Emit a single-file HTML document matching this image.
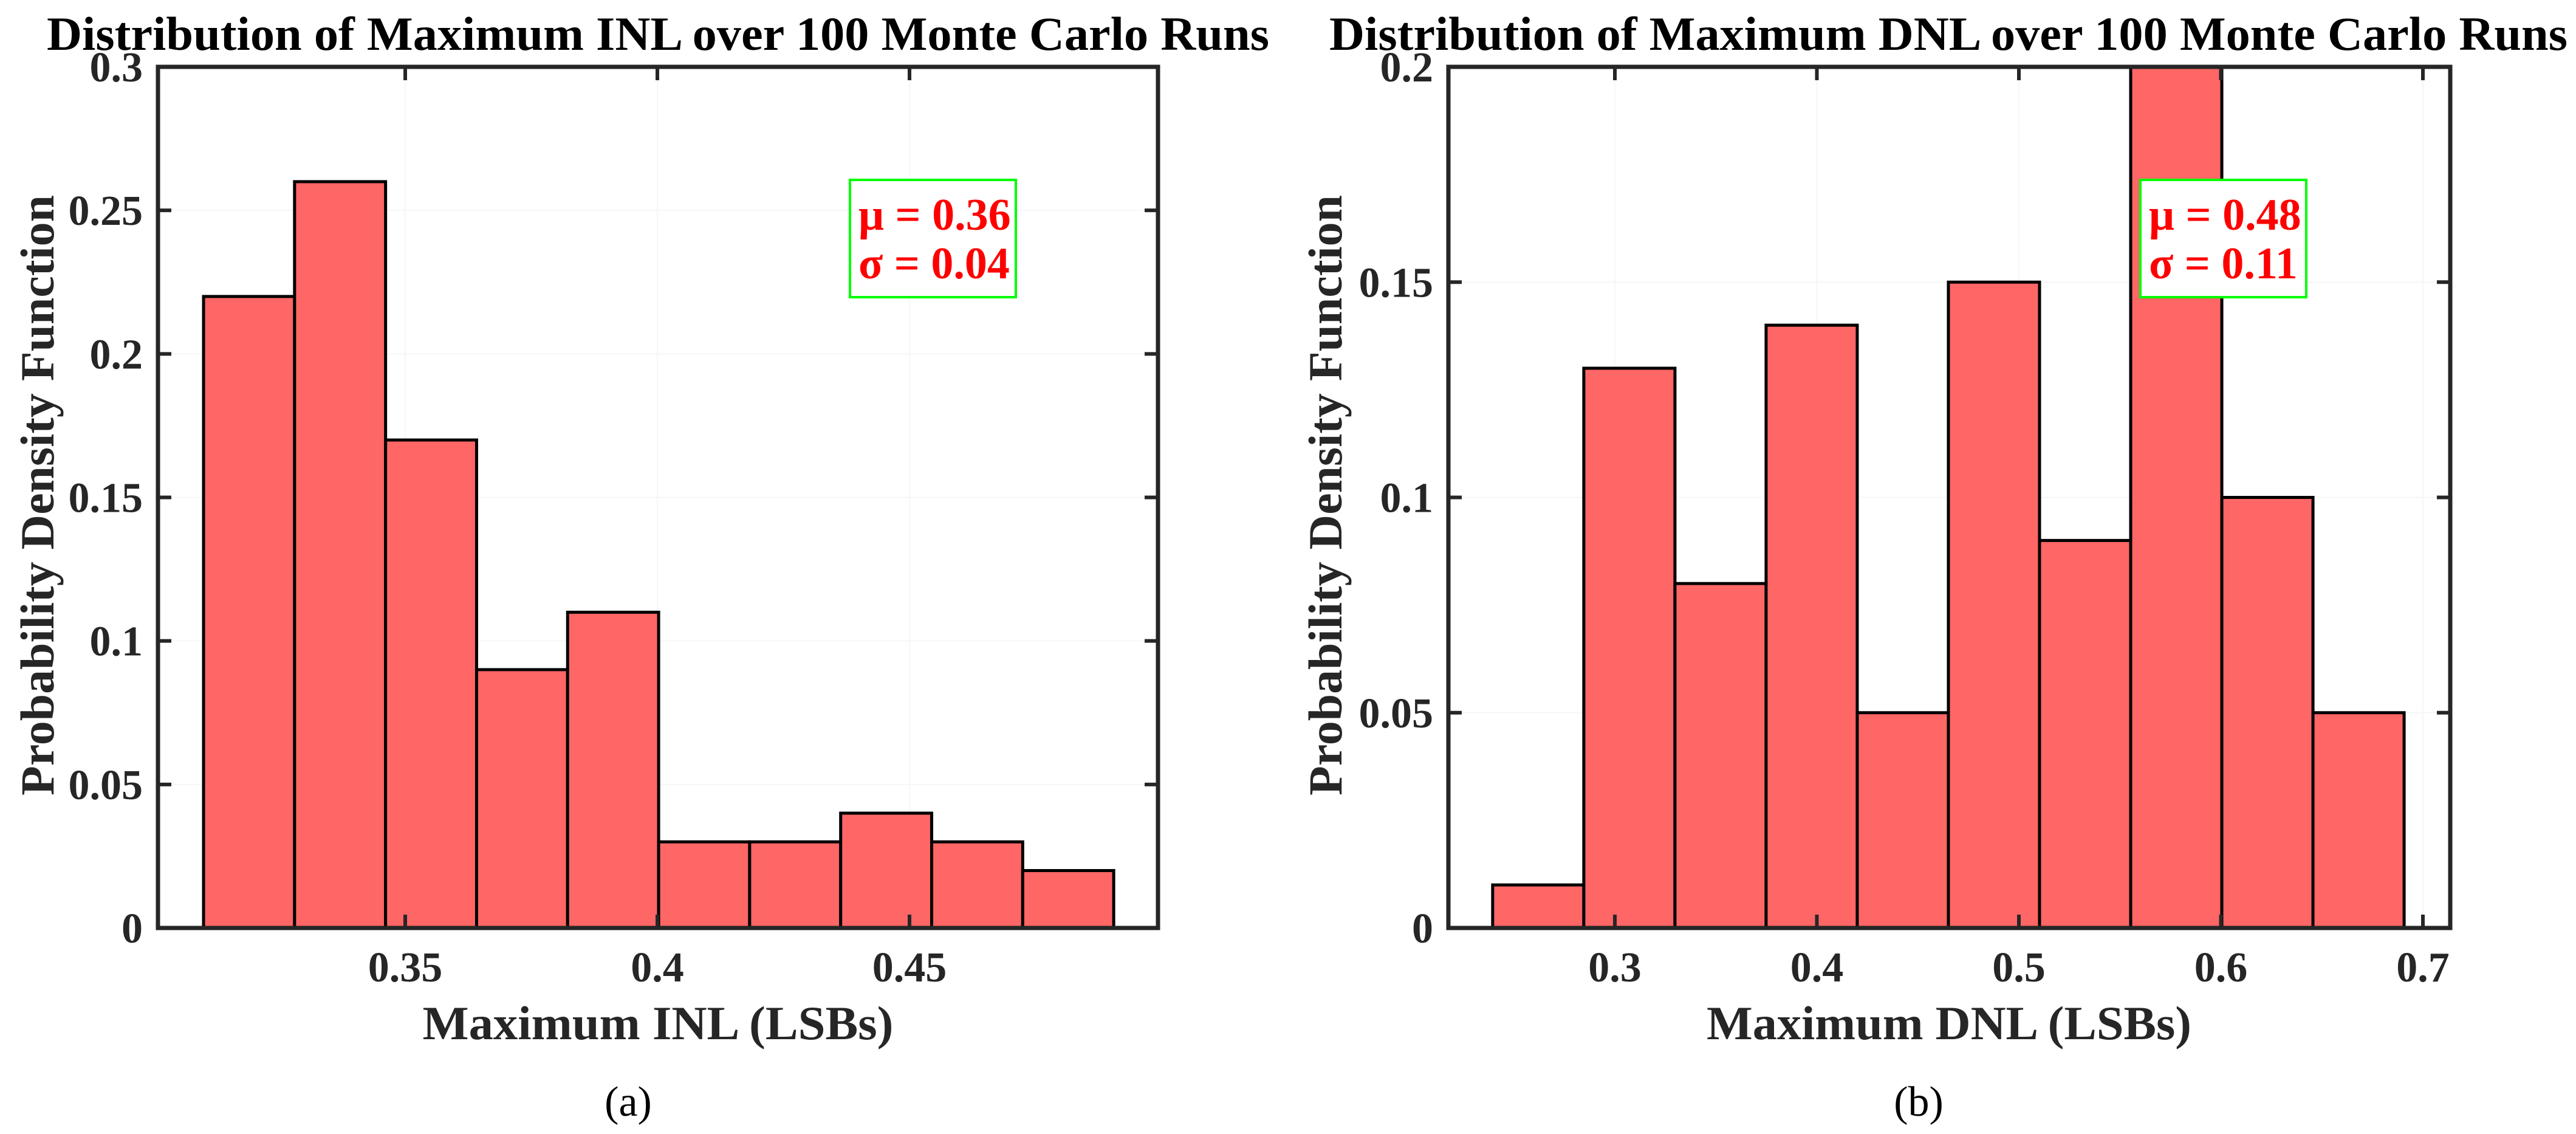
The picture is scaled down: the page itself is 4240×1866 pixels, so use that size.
<!DOCTYPE html>
<html><head><meta charset="utf-8"><style>
html,body{margin:0;padding:0;background:#fff}
svg{display:block}
text{font-family:"Liberation Serif",serif;font-weight:bold;fill:#262626}
</style></head><body>
<svg id="fig" width="4240" height="1866" viewBox="0 0 4240 1866" xmlns="http://www.w3.org/2000/svg"></svg>
<script>
// Panel (a): INL
const inlEdgeStart = 0.31;
const inlBinWidth = 0.01805;
const inlValues = [0.22, 0.26, 0.17, 0.09, 0.11, 0.03, 0.03, 0.04, 0.03, 0.02];
const inlXTicks = [0.35, 0.4, 0.45];
const inlXTickLabels = ["0.35", "0.4", "0.45"];
const inlYTicks = [0, 0.05, 0.1, 0.15, 0.2, 0.25, 0.3];
const inlYTickLabels = ["0", "0.05", "0.1", "0.15", "0.2", "0.25", "0.3"];
const inlStats = ["μ = 0.36", "σ = 0.04"];
// Panel (b): DNL
const dnlEdgeStart = 0.2395;
const dnlBinWidth = 0.04512;
const dnlValues = [0.01, 0.13, 0.08, 0.14, 0.05, 0.15, 0.09, 0.20, 0.10, 0.05];
const dnlXTicks = [0.3, 0.4, 0.5, 0.6, 0.7];
const dnlXTickLabels = ["0.3", "0.4", "0.5", "0.6", "0.7"];
const dnlYTicks = [0, 0.05, 0.1, 0.15, 0.2];
const dnlYTickLabels = ["0", "0.05", "0.1", "0.15", "0.2"];
const dnlStats = ["μ = 0.48", "σ = 0.11"];

const NS = "http://www.w3.org/2000/svg";
const svg = document.getElementById("fig");
function mk(tag, attrs, parent, txt) {
  const e = document.createElementNS(NS, tag);
  for (const k in attrs) e.setAttribute(k, attrs[k]);
  if (txt !== undefined) e.textContent = txt;
  (parent || svg).appendChild(e);
  return e;
}

function panel(cfg) {
  const g = mk("g", {});
  
  
  const {L, R, T, B, xmin, xmax, ymin, ymax} = cfg;
  const sx = v => L + (v - xmin) / (xmax - xmin) * (R - L);
  const sy = v => B - (v - ymin) / (ymax - ymin) * (B - T);
  cfg.yTicks.forEach(v => {
    const l = mk("line", {x1: L, x2: R, y1: sy(v), y2: sy(v), stroke: "#f6f6f6", "stroke-width": 2}, g);
    
    
  });
  cfg.xTicks.forEach(v => {
    const l = mk("line", {x1: sx(v), x2: sx(v), y1: T, y2: B, stroke: "#f6f6f6", "stroke-width": 2}, g);
    
    
  });
  cfg.values.forEach((v, i) => {
    const x0 = sx(cfg.edge + i * cfg.bw), x1 = sx(cfg.edge + (i + 1) * cfg.bw);
    const r = mk("rect", {x: x0, y: sy(v), width: x1 - x0, height: sy(0) - sy(v), fill: "#ff6666", stroke: "#000", "stroke-width": 5}, g);
    
    
  });
  const box = mk("rect", {x: L, y: T, width: R - L, height: B - T, fill: "none", stroke: "#262626", "stroke-width": 7}, g);
  
  
  cfg.xTicks.forEach((v, i) => {
    mk("line", {x1: sx(v), x2: sx(v), y1: B, y2: B - 22, stroke: "#262626", "stroke-width": 6}, g);
    mk("line", {x1: sx(v), x2: sx(v), y1: T, y2: T + 22, stroke: "#262626", "stroke-width": 6}, g);
    const t = mk("text", {x: sx(v), y: B + 88, "text-anchor": "middle", "font-size": 70}, g, cfg.xLabels[i]);
    
    
  });
  cfg.yTicks.forEach((v, i) => {
    mk("line", {x1: L, x2: L + 22, y1: sy(v), y2: sy(v), stroke: "#262626", "stroke-width": 6}, g);
    mk("line", {x1: R, x2: R - 22, y1: sy(v), y2: sy(v), stroke: "#262626", "stroke-width": 6}, g);
    const t = mk("text", {x: L - 25, y: sy(v) + 24, "text-anchor": "end", "font-size": 70}, g, cfg.yLabels[i]);
    
    
  });
  const ti = mk("text", {x: cfg.titleX, y: 82, "font-size": 78, textLength: cfg.titleW, lengthAdjust: "spacingAndGlyphs", style: "fill:#000"}, g, cfg.title);
  
  
  const xl = mk("text", {x: cfg.xlabX, y: 1710, "text-anchor": "middle", "font-size": 78, textLength: cfg.xlabW, lengthAdjust: "spacingAndGlyphs"}, g, cfg.xlab);
  
  
  const yl = mk("text", {x: 0, y: 0, "text-anchor": "middle", "font-size": 78, textLength: 988, lengthAdjust: "spacingAndGlyphs", transform: `translate(${cfg.ylabX},815) rotate(-90)`}, g, "Probability Density Function");
  
  
  const sb = mk("rect", {x: cfg.sbx, y: 296, width: 273, height: 193, fill: "#fff", stroke: "#00ff00", "stroke-width": 4}, g);
  
  
  cfg.stats.forEach((s, i) => {
    const t = mk("text", {x: cfg.sbx + 14, y: 378 + i * 80, "font-size": 74, style: "fill:#ff0000"}, g, s);
    
    
  });
  const c = mk("text", {x: cfg.capX, y: 1836, "text-anchor": "middle", "font-size": 70, style: "font-weight:normal;fill:#000"}, g, cfg.cap);
  
  
}

panel({name: "inl-histogram", L: 260, R: 1906, T: 110, B: 1527,
  xmin: 0.30096, xmax: 0.49928, ymin: 0, ymax: 0.3,
  edge: inlEdgeStart, bw: inlBinWidth, values: inlValues,
  xTicks: inlXTicks, xLabels: inlXTickLabels, yTicks: inlYTicks, yLabels: inlYTickLabels,
  title: "Distribution of Maximum INL over 100 Monte Carlo Runs", titleX: 77, titleW: 2012,
  xlab: "Maximum INL (LSBs)", xlabX: 1083, xlabW: 775, ylabX: 88,
  sbx: 1399, stats: inlStats, cap: "(a)", capX: 1034});

panel({name: "dnl-histogram", L: 2384, R: 4033, T: 110, B: 1527,
  xmin: 0.21759, xmax: 0.71353, ymin: 0, ymax: 0.2,
  edge: dnlEdgeStart, bw: dnlBinWidth, values: dnlValues,
  xTicks: dnlXTicks, xLabels: dnlXTickLabels, yTicks: dnlYTicks, yLabels: dnlYTickLabels,
  title: "Distribution of Maximum DNL over 100 Monte Carlo Runs", titleX: 2188, titleW: 2038,
  xlab: "Maximum DNL (LSBs)", xlabX: 3208, xlabW: 798, ylabX: 2208,
  sbx: 3523, stats: dnlStats, cap: "(b)", capX: 3158});
</script>
</body></html>
